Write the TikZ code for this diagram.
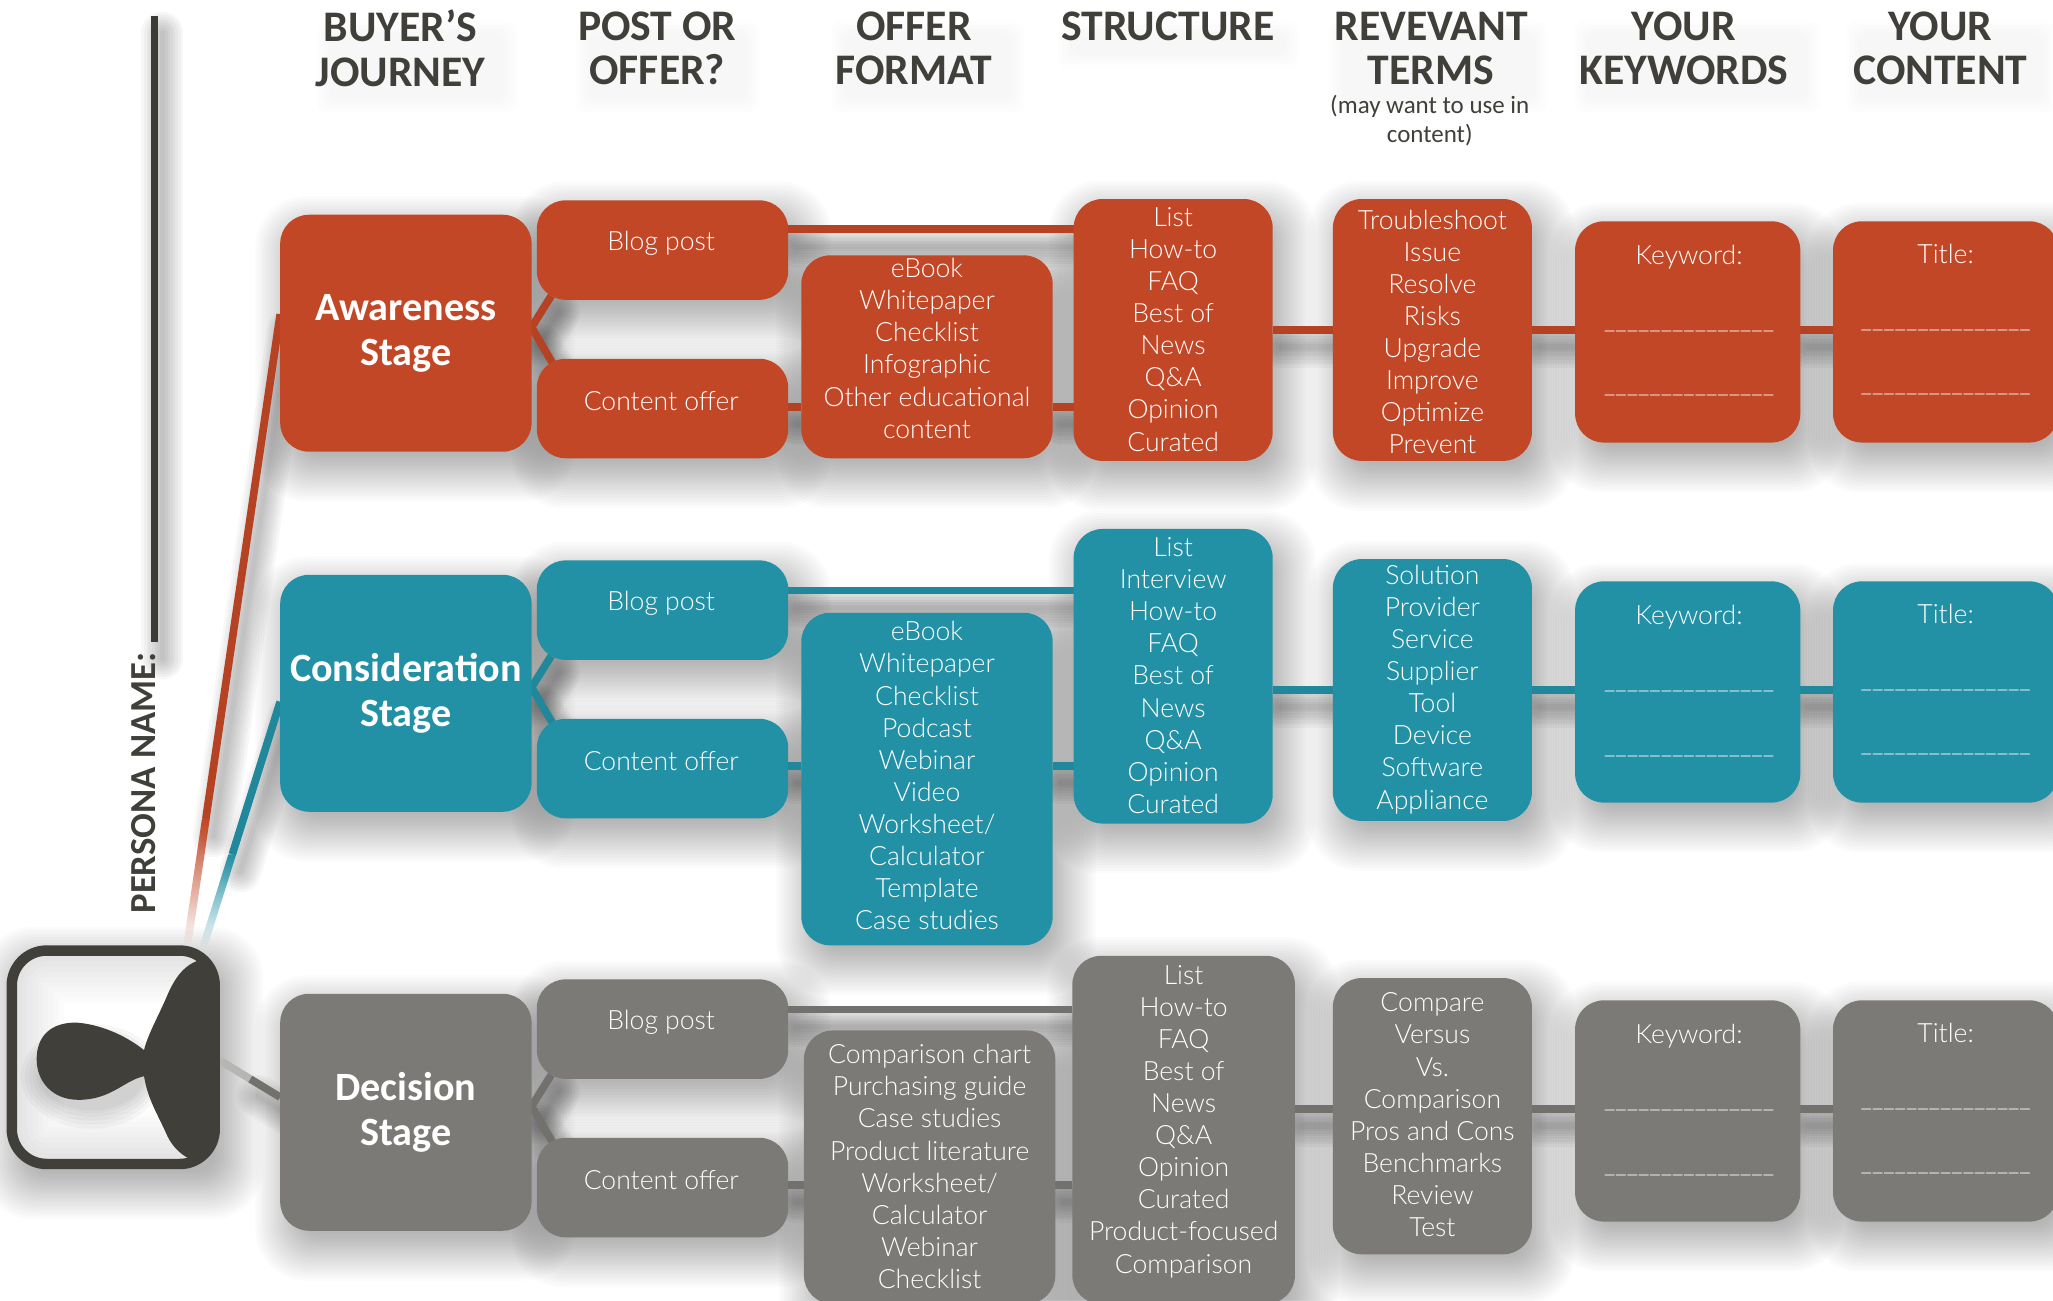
\documentclass[tikz,border=0pt]{standalone}
\usepackage{fontspec}
\usetikzlibrary{calc,fadings}
\setmainfont{Lato}[UprightFont=* Light,BoldFont=Carlito Bold]
\newfontfamily\headfont{Carlito}[BoldFont=Carlito Bold]
\definecolor{org}{HTML}{C24726}
\definecolor{tea}{HTML}{2391A5}
\definecolor{gry}{HTML}{7B7A76}
\definecolor{drk}{HTML}{403F3A}
\pgfdeclarelayer{shadowlayer}
\pgfdeclarelayer{connlayer}
\pgfsetlayers{shadowlayer,connlayer,main}
\tikzfading[name=fadeup,top color=transparent!0,bottom color=transparent!100]
\tikzset{
 x=0.75pt,y=-0.75pt,
 boxstyle/.style={rectangle,rounded corners=16.5pt,inner sep=0pt,outer sep=0pt,anchor=center,draw=none},
 bodytext/.style={text=white,align=center,inner sep=0pt,font=\fontsize{15.2pt}{18.4pt}\selectfont},
 stagetext/.style={text=white,align=center,inner sep=0pt,font=\headfont\bfseries\fontsize{23pt}{25.8pt}\selectfont},
 headtext/.style={text=drk,align=center,inner sep=0pt,font=\headfont\bfseries\fontsize{25pt}{25.6pt}\selectfont},
 subtext/.style={text=drk,align=center,inner sep=0pt,font=\headfont\fontsize{14.3pt}{16.5pt}\selectfont},
 conn/.style={line width=4.4pt,line cap=butt},
}
\newcommand{\Soft}[4]{%
 \begin{pgfonlayer}{shadowlayer}
 \foreach \e in {26,24,22,20,18,16,14,12,10,8,6,4,2,0,-2,-4,-6,-8,-10}{
  \fill[black,opacity=0.017,rounded corners=16pt+0.5pt*\e]
   (#1+7-\e,#2+12-\e) rectangle (#3+7+\e,#4+12+\e);}
 \end{pgfonlayer}
}
\newcommand{\Bx}[6]{%
 \Soft{#2}{#3}{#4}{#5}
 \pgfmathsetmacro{\bxw}{(#4-#2)*0.75}\pgfmathsetmacro{\bxh}{(#5-#3)*0.75}
 \node[boxstyle,fill=#6,minimum width=\bxw pt,minimum height=\bxh pt] (#1) at ({(#2+#4)/2},{(#3+#5)/2}) {};
}
\newcommand{\Cn}[3]{%
 \path (#2) coordinate (pA) (#3) coordinate (pB);
 \begin{pgfonlayer}{shadowlayer}
 \foreach \w in {24pt,21pt,18pt,15pt,12pt,9pt,6pt,3pt}{
  \draw[black,opacity=0.032,line width=\w,line cap=round] ([shift={(6,13)}]pA) -- ([shift={(6,13)}]pB);}
 \end{pgfonlayer}
 \begin{pgfonlayer}{connlayer}
 \draw[conn,#1!93!black] (pA) -- (pB);
 \end{pgfonlayer}
}
\newcommand{\Blob}[4]{%
 \begin{pgfonlayer}{shadowlayer}
 \foreach \e in {10,7,4,1}{
  \fill[black,opacity=0.009,rounded corners=6pt]
   (#1-\e,#2-\e) rectangle (#3+\e,#4+\e);}
 \end{pgfonlayer}
}
\newcommand{\Kw}{{\fontsize{14.4pt}{18.4pt}\selectfont\_\_\_\_\_\_\_\_\_\_\_\_\_\_\_}}
\begin{document}
\begin{tikzpicture}
\useasboundingbox (0,0) rectangle (1568,993);
\begin{pgfonlayer}{shadowlayer}
\fill[white] (0,0) rectangle (1568,993);
\end{pgfonlayer}

\node[headtext] (h1) at (306,37) {BUYER’S\\JOURNEY};
\node[headtext] (h2) at (502,37) {POST OR\\OFFER?};
\node[headtext] (h3) at (698,37) {OFFER\\FORMAT};
\node[headtext] (h4) at (892,20) {STRUCTURE};
\node[headtext] (h5) at (1093,37) {REVEVANT\\TERMS};
\node[subtext] (h5b) at (1092,92) {(may want to use in\\content)};
\node[headtext] (h6) at (1286,37) {YOUR\\KEYWORDS};
\node[headtext] (h7) at (1482,37) {YOUR\\CONTENT};
\Blob{252}{26}{385}{76}\Blob{450}{26}{570}{76}\Blob{645}{26}{772}{76}
\Blob{818}{26}{982}{42}\Blob{1025}{26}{1172}{76}\Blob{1212}{26}{1380}{76}\Blob{1420}{26}{1560}{76}

\coordinate (lineTop) at (118,12);
\node[text=drk,rotate=90,inner sep=0pt,font=\headfont\bfseries\fontsize{21pt}{24pt}\selectfont] (pname) at (110,598) {PERSONA NAME:};
\coordinate (lineBot) at (118,490);
\Cn{drk}{lineTop}{lineBot}

\node[rectangle,rounded corners=20pt,draw=none,fill=white,outer sep=0pt,minimum width=116.25pt,minimum height=122.25pt,inner sep=0pt] (pers) at (86.5,807.5) {};
\Soft{5}{722}{168}{893}
\begin{scope}
 \clip[rounded corners=20pt] (pers.north west) rectangle (pers.south east);
 \foreach \w in {60pt,54pt,48pt,42pt,36pt,30pt,24pt,18pt,12pt}{
  \draw[black,opacity=0.012,line width=\w,rounded corners=20pt] (pers.north west) rectangle (pers.south east);}
 \foreach \e in {14,11,8,5,2,0}{
  \fill[black,opacity=0.03] (70,822) ellipse[x radius=40+\e,y radius=26+\e];}
 \fill[drk] (168,730) -- (160,732)
   .. controls (143,733) and (134,745) .. (127,762)
   .. controls (120,778) and (113,790) .. (110,802)
   .. controls (95,790) and (75,782) .. (58,781)
   .. controls (38,781) and (28,792) .. (28,809)
   .. controls (28,826) and (40,840) .. (60,840)
   .. controls (85,840) and (95,825) .. (110,822)
   .. controls (113,840) and (120,850) .. (128,868)
   .. controls (134,880) and (145,888) .. (160,889)
   -- (168,889) -- cycle;
\end{scope}
\draw[drk,line width=6pt,rounded corners=20pt] (pers.north west) rectangle (pers.south east);

\Bx{s1}{214}{164}{406}{345}{org}
\Bx{b1}{410}{153}{602}{229}{org}
\Bx{c1}{410}{274}{602}{350}{org}
\Bx{f1}{612}{195}{804}{350}{org}
\Bx{t1}{820}{152}{972}{352}{org}
\Bx{m1}{1018}{152}{1170}{352}{org}
\Bx{k1}{1203}{169}{1375}{338}{org}
\Bx{n1}{1400}{169}{1572}{338}{org}
\coordinate (a1) at (406,250);
\coordinate (y1a) at (0,175);\coordinate (y1b) at (0,311);\coordinate (y1c) at (0,252);
\Cn{org}{a1}{421,226}\Cn{org}{a1}{423,279}
\Cn{org}{b1.east |- y1a}{t1.west |- y1a}
\Cn{org}{c1.east |- y1b}{f1.west |- y1b}
\Cn{org}{f1.east |- y1b}{t1.west |- y1b}
\Cn{org}{t1.east |- y1c}{m1.west |- y1c}
\Cn{org}{m1.east |- y1c}{k1.west |- y1c}
\Cn{org}{k1.east |- y1c}{n1.west |- y1c}
\node[stagetext] (s1t) at (310,254.5) {Awareness\\Stage};
\node[bodytext] (b1t) at (505,186) {Blog post};
\node[bodytext] (c1t) at (505,306) {Content offer};
\node[bodytext] (f1t) at (708,266) {eBook\\Whitepaper\\Checklist\\Infographic\\Other educational\\content};
\node[bodytext] (t1t) at (896,251.5) {List\\How-to\\FAQ\\Best of\\News\\Q\&A\\Opinion\\Curated};
\node[bodytext] (m1t) at (1094,253.5) {Troubleshoot\\Issue\\Resolve\\Risks\\Upgrade\\Improve\\Optimize\\Prevent};
\node[bodytext] (k1t) at (1290,245) {Keyword:\\[18.4pt]\Kw\\[18.4pt]\Kw};
\node[bodytext] (n1t) at (1486,244) {Title:\\[18.4pt]\Kw\\[18.4pt]\Kw};

\Bx{s2}{214}{439}{406}{620}{tea}
\Bx{b2}{410}{428}{602}{504}{tea}
\Bx{c2}{410}{549}{602}{625}{tea}
\Bx{f2}{612}{468}{804}{722}{tea}
\Bx{t2}{820}{404}{972}{629}{tea}
\Bx{m2}{1018}{427}{1170}{627}{tea}
\Bx{k2}{1203}{444}{1375}{613}{tea}
\Bx{n2}{1400}{444}{1572}{613}{tea}
\coordinate (a2) at (406,525);
\coordinate (y2a) at (0,451);\coordinate (y2b) at (0,585);\coordinate (y2c) at (0,527);
\Cn{tea}{a2}{421,501}\Cn{tea}{a2}{423,554}
\Cn{tea}{b2.east |- y2a}{t2.west |- y2a}
\Cn{tea}{c2.east |- y2b}{f2.west |- y2b}
\Cn{tea}{f2.east |- y2b}{t2.west |- y2b}
\Cn{tea}{t2.east |- y2c}{m2.west |- y2c}
\Cn{tea}{m2.east |- y2c}{k2.west |- y2c}
\Cn{tea}{k2.east |- y2c}{n2.west |- y2c}
\node[stagetext] (s2t) at (310,529.5) {Consideration\\Stage};
\node[bodytext] (b2t) at (505,461) {Blog post};
\node[bodytext] (c2t) at (505,581.5) {Content offer};
\node[bodytext] (f2t) at (708,592.5) {eBook\\Whitepaper\\Checklist\\Podcast\\Webinar\\Video\\Worksheet/\\Calculator\\Template\\Case studies};
\node[bodytext] (t2t) at (896,516) {List\\Interview\\How-to\\FAQ\\Best of\\News\\Q\&A\\Opinion\\Curated};
\node[bodytext] (m2t) at (1094,526.5) {Solution\\Provider\\Service\\Supplier\\Tool\\Device\\Software\\Appliance};
\node[bodytext] (k2t) at (1290,520) {Keyword:\\[18.4pt]\Kw\\[18.4pt]\Kw};
\node[bodytext] (n2t) at (1486,519) {Title:\\[18.4pt]\Kw\\[18.4pt]\Kw};

\Bx{s3}{214}{759}{406}{940}{gry}
\Bx{b3}{410}{748}{602}{824}{gry}
\Bx{c3}{410}{869}{602}{945}{gry}
\Bx{f3}{614}{787}{806}{996}{gry}
\Bx{t3}{819}{730}{989}{996}{gry}
\Bx{m3}{1018}{747}{1170}{958}{gry}
\Bx{k3}{1203}{764}{1375}{933}{gry}
\Bx{n3}{1400}{764}{1572}{933}{gry}
\coordinate (a3) at (406,845);
\coordinate (y3a) at (0,771);\coordinate (y3b) at (0,905);\coordinate (y3c) at (0,847);
\Cn{gry}{a3}{421,821}\Cn{gry}{a3}{423,874}
\Cn{gry}{b3.east |- y3a}{t3.west |- y3a}
\Cn{gry}{c3.east |- y3b}{f3.west |- y3b}
\Cn{gry}{f3.east |- y3b}{t3.west |- y3b}
\Cn{gry}{t3.east |- y3c}{m3.west |- y3c}
\Cn{gry}{m3.east |- y3c}{k3.west |- y3c}
\Cn{gry}{k3.east |- y3c}{n3.west |- y3c}
\node[stagetext] (s3t) at (310,849.5) {Decision\\Stage};
\node[bodytext] (b3t) at (505,781) {Blog post};
\node[bodytext] (c3t) at (505,901) {Content offer};
\node[bodytext] (f3t) at (710,891) {Comparison chart\\Purchasing guide\\Case studies\\Product literature\\Worksheet/\\Calculator\\Webinar\\Checklist};
\node[bodytext] (t3t) at (904,856.5) {List\\How-to\\FAQ\\Best of\\News\\Q\&A\\Opinion\\Curated\\Product-focused\\Comparison};
\node[bodytext] (m3t) at (1094,851.5) {Compare\\Versus\\Vs.\\Comparison\\Pros and Cons\\Benchmarks\\Review\\Test};
\node[bodytext] (k3t) at (1290,840) {Keyword:\\[18.4pt]\Kw\\[18.4pt]\Kw};
\node[bodytext] (n3t) at (1486,839) {Title:\\[18.4pt]\Kw\\[18.4pt]\Kw};

\coordinate (p1) at (143,722);\coordinate (p2) at (155,724);
\coordinate (q1) at (214,240);\coordinate (q2) at (214,536);
\coordinate (m1p) at ($(q1)!0.8!(p1)$);\coordinate (m2p) at ($(q2)!0.62!(p2)$);
\Cn{org}{q1}{m1p}\Cn{tea}{q2}{m2p}
\begin{pgfonlayer}{connlayer}
\fill[org,path fading=fadeup] ($(m1p)+(-3,0)$) -- ($(m1p)+(3,0)$) -- ($(p1)+(3,0)$) -- ($(p1)+(-3,0)$) -- cycle;
\fill[tea,path fading=fadeup] ($(m2p)+(-3,0)$) -- ($(m2p)+(3,0)$) -- ($(p2)+(3,0)$) -- ($(p2)+(-3,0)$) -- cycle;
\end{pgfonlayer}
\coordinate (g1) at (168,810);\coordinate (g2) at (214,838);
\coordinate (gm) at ($(g1)!0.5!(g2)$);
\Cn{gry}{gm}{g2}
\begin{pgfonlayer}{connlayer}
\draw[conn,gry!55] (g1) -- (gm);
\end{pgfonlayer}
\end{tikzpicture}
\end{document}
